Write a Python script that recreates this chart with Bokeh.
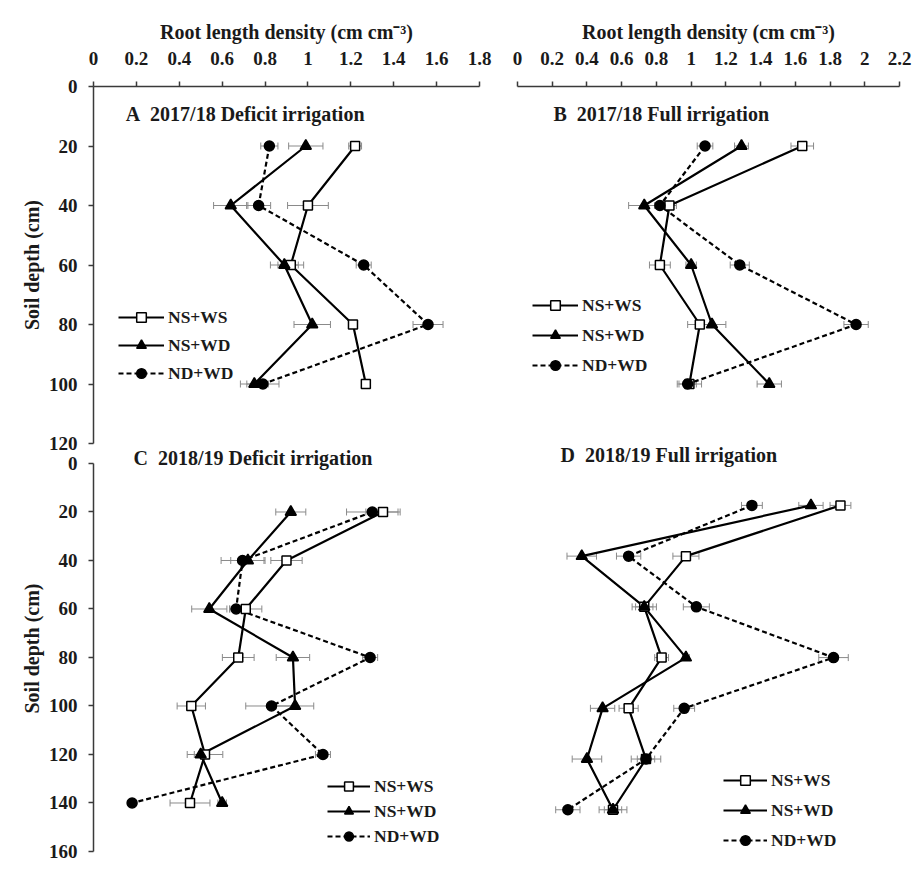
from bokeh.plotting import figure
from bokeh.layouts import row, column
from bokeh.models import (Range1d, FixedTicker, Whisker, TeeHead, ColumnDataSource,
                          Legend, LegendItem, Label)
from bokeh.embed import file_html
from bokeh.resources import INLINE

# ---------------- data ----------------
series_names = ["NS+WS", "NS+WD", "ND+WD"]

depth_1718 = [20, 40, 60, 80, 100]
depth_1819 = [20, 40, 60, 80, 100, 120, 140]

# A 2017/18 deficit irrigation
a_nsws = [1.22, 1.00, 0.92, 1.21, 1.27]
a_nsws_err = [0.03, 0.095, 0.06, 0.02, 0.02]
a_nswd = [0.99, 0.64, 0.89, 1.02, 0.75]
a_nswd_err = [0.08, 0.08, 0.065, 0.085, 0.065]
a_ndwd = [0.82, 0.77, 1.26, 1.56, 0.79]
a_ndwd_err = [0.04, 0.056, 0.035, 0.07, 0.075]

# B 2017/18 full irrigation
b_nsws = [1.64, 0.875, 0.82, 1.05, 0.99]
b_nsws_err = [0.065, 0.04, 0.06, 0.07, 0.07]
b_nswd = [1.29, 0.73, 1.00, 1.12, 1.45]
b_nswd_err = [0.04, 0.09, 0.03, 0.08, 0.07]
b_ndwd = [1.08, 0.82, 1.28, 1.95, 0.98]
b_ndwd_err = [0.045, 0.03, 0.055, 0.07, 0.05]

# C 2018/19 deficit irrigation
c_nsws = [1.35, 0.90, 0.71, 0.675, 0.456, 0.52, 0.45]
c_nsws_err = [0.08, 0.073, 0.075, 0.074, 0.066, 0.083, 0.093]
c_nswd = [0.92, 0.72, 0.54, 0.93, 0.94, 0.50, 0.60]
c_nswd_err = [0.07, 0.08, 0.082, 0.078, 0.087, 0.03, 0.02]
c_ndwd = [1.30, 0.695, 0.665, 1.29, 0.83, 1.07, 0.18]
c_ndwd_err = [0.12, 0.10, 0.03, 0.035, 0.12, 0.035, 0.0]

# D 2018/19 full irrigation
d_nsws = [1.86, 0.97, 0.73, 0.83, 0.64, 0.74, 0.55]
d_nsws_err = [0.06, 0.075, 0.07, 0.04, 0.055, 0.085, 0.08]
d_nswd = [1.69, 0.37, 0.73, 0.97, 0.49, 0.40, 0.55]
d_nswd_err = [0.07, 0.085, 0.05, 0.02, 0.07, 0.085, 0.05]
d_ndwd = [1.35, 0.64, 1.03, 1.82, 0.96, 0.74, 0.29]
d_ndwd_err = [0.06, 0.07, 0.075, 0.085, 0.06, 0.05, 0.07]

x_ticks_left = [0, 0.2, 0.4, 0.6, 0.8, 1.0, 1.2, 1.4, 1.6, 1.8]
x_labels_left = ["0", "0.2", "0.4", "0.6", "0.8", "1", "1.2", "1.4", "1.6", "1.8"]
x_ticks_right = [0, 0.2, 0.4, 0.6, 0.8, 1.0, 1.2, 1.4, 1.6, 1.8, 2.0, 2.2]
x_labels_right = ["0", "0.2", "0.4", "0.6", "0.8", "1", "1.2", "1.4", "1.6", "1.8", "2", "2.2"]
y_ticks_top = [0, 20, 40, 60, 80, 100, 120]
y_ticks_bottom = [0, 20, 40, 60, 80, 100, 120, 140, 160]

panel_titles = ["A\u00a0\u00a02017/18 Deficit irrigation", "B\u00a0\u00a02017/18 Full irrigation",
                "C\u00a0\u00a02018/19 Deficit irrigation", "D\u00a0\u00a02018/19 Full irrigation"]
x_title = "Root length density (cm cm\u207b\u00b3)"
y_title = "Soil depth (cm)"

# ---------------- style ----------------
FONT = "Liberation Serif"
TXT = "#1a1a1a"
AX = "#3a3a3a"
ERR = "#8a8a8a"


def make_fig(w, h, yr, bl, br, bt, bb, xmax, xaxis, yaxis, **kw):
    p = figure(width=w, height=h, x_range=Range1d(0, xmax), y_range=Range1d(*yr),
               output_backend="svg", toolbar_location=None, title=None,
               x_axis_location="above" if xaxis else None,
               y_axis_location="left" if yaxis else None,
               min_border_left=bl, min_border_right=br,
               min_border_top=bt, min_border_bottom=bb, **kw)
    p.grid.visible = False
    p.outline_line_color = None
    p.background_fill_alpha = 0
    p.border_fill_alpha = 0
    for ax in p.axis:
        ax.axis_line_color = AX
        ax.axis_line_width = 1.5
        ax.major_tick_line_color = AX
        ax.major_tick_line_width = 1.5
        ax.major_tick_out = 5
        ax.major_tick_in = 0
        ax.minor_tick_line_color = None
        ax.major_label_text_font = FONT
        ax.major_label_text_font_style = "bold"
        ax.major_label_text_font_size = "19px"
        ax.major_label_text_color = TXT
        ax.axis_label_text_font = FONT
        ax.axis_label_text_font_style = "bold"
        ax.axis_label_text_font_size = "20px"
        ax.axis_label_text_color = TXT
    return p


def setup_x(p, ticks, labels):
    ax = p.xaxis[0]
    ax.ticker = FixedTicker(ticks=ticks)
    ax.major_label_overrides = {t: l for t, l in zip(ticks, labels)}
    ax.axis_label = x_title
    ax.major_label_standoff = 17
    ax.axis_label_standoff = 6


def setup_y(p, ticks):
    ax = p.yaxis[0]
    ax.ticker = FixedTicker(ticks=ticks)
    ax.major_label_overrides = {t: str(t) for t in ticks}
    ax.bounds = (ticks[0], ticks[-1])
    ax.axis_label = y_title
    ax.major_label_standoff = 11
    ax.axis_label_standoff = 3


def add_series(p, depth, vals_list, errs_list, leg_x, leg_y, glyph_h, spacing, glyph_w):
    items = []
    styles = [
        dict(marker="square", fill="white", size=9, dash="solid"),
        dict(marker="triangle", fill="black", size=11, dash="solid"),
        dict(marker="circle", fill="black", size=10, dash="5 3"),
    ]
    for vals, errs in zip(vals_list, errs_list):
        src = ColumnDataSource(dict(y=depth, x=vals,
                                    lo=[v - e for v, e in zip(vals, errs)],
                                    hi=[v + e for v, e in zip(vals, errs)]))
        p.add_layout(Whisker(source=src, base="y", lower="lo", upper="hi", dimension="width",
                             line_color=ERR, line_width=1,
                             upper_head=TeeHead(size=7, line_color=ERR, line_width=1),
                             lower_head=TeeHead(size=7, line_color=ERR, line_width=1)))
    line_rs = []
    for vals, st in zip(vals_list, styles):
        src = ColumnDataSource(dict(y=depth, x=vals))
        lr = p.line("x", "y", source=src, line_color="black", line_width=2.2,
                    line_dash=st["dash"])
        line_rs.append((lr, src))
    for (lr, src), st, name in zip(line_rs, styles, series_names):
        sr = p.scatter("x", "y", source=src, marker=st["marker"], size=st["size"],
                       fill_color=st["fill"], line_color="black", line_width=1.5)
        items.append(LegendItem(label=name, renderers=[lr, sr]))
    leg = Legend(items=items, location=(leg_x, leg_y), orientation="vertical",
                 border_line_color=None, background_fill_alpha=0, margin=0, padding=0,
                 spacing=spacing, glyph_height=glyph_h, label_height=glyph_h,
                 glyph_width=glyph_w, label_standoff=4,
                 label_text_font=FONT, label_text_font_style="bold",
                 label_text_font_size="17.5px", label_text_color=TXT)
    p.add_layout(leg, "center")


def add_title(p, text, x, y):
    p.add_layout(Label(x=x, y=y, text=text, text_font=FONT, text_font_style="bold",
                       text_font_size="20px", text_color=TXT, text_align="left",
                       text_baseline="middle"))


# A: canvas 0..463, frame x 93..479, y 86..443 (0..120)
pA = make_fig(500, 463, (120, 0), 93, 21, 86, 20, 1.8, True, True)
setup_x(pA, x_ticks_left, x_labels_left)
setup_y(pA, y_ticks_top)
add_series(pA, depth_1718, [a_nsws, a_nswd, a_ndwd], [a_nsws_err, a_nswd_err, a_ndwd_err],
           25, 58, 24, 4, 46)
add_title(pA, panel_titles[0], 0.15, 9.1)

# B: canvas 0..445, frame x 517..899, y 86..443 (0..120)
pB = make_fig(417, 445, (120, 0), 17, 18, 86, 2, 2.2, True, False)
setup_x(pB, x_ticks_right, x_labels_right)
add_series(pB, depth_1718, [b_nsws, b_nswd, b_ndwd], [b_nsws_err, b_nswd_err, b_ndwd_err],
           15, 66, 24, 6, 46)
add_title(pB, panel_titles[1], 0.207, 9.1)

# C: canvas 445..881 (overlaps A by 18 px), frame y 445..851, depth 0 at 463, 160 at 851
pC = make_fig(500, 436, (160, -7.42), 93, 21, 0, 30, 1.8, False, True, margin=(-18, 0, 0, 0))
setup_y(pC, y_ticks_bottom)
add_series(pC, depth_1819, [c_nsws, c_nswd, c_ndwd], [c_nsws_err, c_nswd_err, c_ndwd_err],
           234, 4, 22, 3, 43)
add_title(pC, panel_titles[2], 0.187, -2.06)

# D: canvas 445..881, frame y 445..860
pD = make_fig(417, 436, (160, -3.62), 17, 18, 0, 21, 2.2, False, False)
add_series(pD, depth_1819, [d_nsws, d_nswd, d_ndwd], [d_nsws_err, d_nswd_err, d_ndwd_err],
           206, 8, 24, 6, 44)
add_title(pD, panel_titles[3], 0.248, 0.32)

layout = row(column(pA, pC, spacing=0), column(pB, pD, spacing=0), spacing=0)

open("out.html", "w").write(file_html(layout, INLINE))
